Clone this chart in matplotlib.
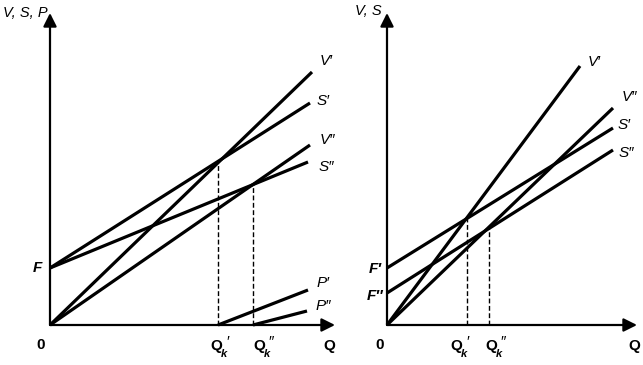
import numpy as np
import matplotlib.pyplot as plt

plt.rcParams['font.family'] = ['Liberation Sans', 'DejaVu Sans']

# ---- left panel (x = Q, y = V, S, P) ----
F_left = 5.7
V1_left = ([0, 26.2], [0, 25.3])
S1_left = ([0, 26.0], [F_left, 22.2])
V2_left = ([0, 26.0], [0, 18.0])
S2_left = ([0, 25.8], [F_left, 16.3])
Qk1_left = 16.8
Qk2_left = 20.3
P1_left = ([Qk1_left, 25.8], [0, 3.5])
P2_left = ([Qk2_left, 25.7], [0, 1.4])

# ---- right panel (x = Q, y = V, S) ----
F1_right = 5.7
F2_right = 3.2
V1_right = ([0, 19.3], [0, 25.9])
V2_right = ([0, 22.6], [0, 21.7])
S1_right = ([0, 22.6], [F1_right, 19.7])
S2_right = ([0, 22.6], [F2_right, 17.5])
Qk1_right = 8.0
Qk2_right = 10.2

W, H = 643, 365
fig = plt.figure(figsize=(W / 100, H / 100), dpi=100)


def make_axes(px_left, px_right, px_origin):
    ax = fig.add_axes([px_left / W, 0, (px_right - px_left) / W, 1])
    ax.set_xlim((px_left - px_origin) / 10, (px_right - px_origin) / 10)
    ax.set_ylim(-4.0, 32.5)
    ax.axis('off')
    return ax


def axis_arrows(ax, xmax, ymax):
    ap = dict(arrowstyle='-|>', lw=1.6, color='black', mutation_scale=20,
              shrinkA=0, shrinkB=0)
    ax.annotate('', xy=(xmax, 0), xytext=(0, 0), arrowprops=ap)
    ax.annotate('', xy=(0, ymax), xytext=(0, 0), arrowprops=ap)


def draw_line(ax, line):
    ax.plot(line[0], line[1], color='black', lw=2.3, solid_capstyle='butt')


def dashed(ax, q, line):
    top = np.interp(q, line[0], line[1])
    ax.plot([q, q], [0, top], color='black', lw=1.0, linestyle=(0, (3.5, 1.8)))


def label(ax, x, y, s, bold=False, size=11):
    ax.text(x, y, s, ha='center', va='center', fontsize=size,
            fontstyle='italic', fontweight='bold' if bold else 'normal')


def qk_label(ax, x, y, prime):
    ax.text(x, y, 'Q', ha='center', va='center', fontsize=11, fontweight='bold')
    ax.annotate('k', xy=(x, y), xytext=(6, -6), textcoords='offset points',
                ha='center', va='center', fontsize=8, fontweight='bold',
                fontstyle='italic')
    ax.annotate(prime, xy=(x, y), xytext=(8.5, 3), textcoords='offset points',
                ha='center', va='center', fontsize=11)


# left
axl = make_axes(0, 340, 50)
axis_arrows(axl, 28.5, 31.2)
for ln in (V1_left, S1_left, V2_left, S2_left, P1_left, P2_left):
    draw_line(axl, ln)
dashed(axl, Qk1_left, V1_left)
dashed(axl, Qk2_left, V2_left)

label(axl, -2.45, 31.2, 'V, S, P', size=10.5)
label(axl, 27.6, 26.4, 'V′')
label(axl, 27.3, 22.4, 'S′')
label(axl, 27.7, 18.5, 'V″')
label(axl, 27.6, 15.8, 'S″')
label(axl, 27.3, 4.2, 'P′')
label(axl, 27.3, 1.9, 'P″')
label(axl, -1.3, F_left, 'F', bold=True)
axl.text(-0.9, -2.0, '0', ha='center', va='center', fontsize=11, fontweight='bold')
qk_label(axl, Qk1_left - 0.2, -2.1, '′')
qk_label(axl, Qk2_left + 0.6, -2.1, '″')
axl.text(27.9, -2.1, 'Q', ha='center', va='center', fontsize=11, fontweight='bold')

# right
axr = make_axes(340, 643, 387)
axis_arrows(axr, 25.0, 31.2)
for ln in (V1_right, V2_right, S1_right, S2_right):
    draw_line(axr, ln)
dashed(axr, Qk1_right, S1_right)
dashed(axr, Qk2_right, S2_right)

label(axr, -1.9, 31.4, 'V, S', size=10.5)
label(axr, 20.7, 26.3, 'V′')
label(axr, 24.2, 22.8, 'V″')
label(axr, 23.7, 20.0, 'S′')
label(axr, 23.9, 17.2, 'S″')
label(axr, -1.2, 5.6, 'F′', bold=True)
label(axr, -1.2, 2.9, 'F″', bold=True)
axr.text(-0.7, -2.0, '0', ha='center', va='center', fontsize=11, fontweight='bold')
qk_label(axr, Qk1_right - 1.1, -2.1, '′')
qk_label(axr, Qk2_right + 0.2, -2.1, '″')
axr.text(24.7, -2.1, 'Q', ha='center', va='center', fontsize=11, fontweight='bold')

fig.savefig('out.png', dpi=100)
